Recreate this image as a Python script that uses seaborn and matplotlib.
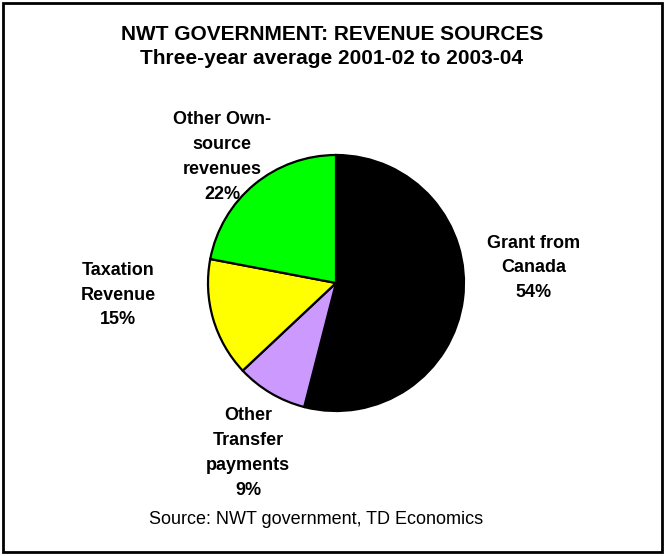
import matplotlib
matplotlib.use("Agg")
import matplotlib.pyplot as plt
import seaborn as sns
from matplotlib.patches import Rectangle

# Revenue shares (percent), in clockwise order starting at 12 o'clock
categories = ["Grant from\nCanada", "Other\nTransfer\npayments", "Taxation\nRevenue", "Other Own-\nsource\nrevenues"]
shares = [54, 9, 15, 22]
colors = ["#000000", "#CC99FF", "#FFFF00", "#00FF00"]

sns.set_theme(style="white")
plt.rcParams["font.family"] = ["Liberation Sans", "DejaVu Sans"]
plt.rcParams["text.color"] = "black"

W, H = 665, 556
fig = plt.figure(figsize=(W / 100, H / 100), dpi=100)

def fx(px):
    return px / W

def fy(py):
    return 1 - py / H

# Pie axes: centre (336, 283) px, radius 128 px
cx, cy, r = 336, 283, 128
ax = fig.add_axes([fx(cx - r), fy(cy + r), 2 * r / W, 2 * r / H])
ax.pie(shares, colors=colors, startangle=90, counterclock=False,
       wedgeprops=dict(edgecolor="black", linewidth=1.6))
ax.set_xlim(-1, 1)
ax.set_ylim(-1, 1)
ax.set_aspect("equal")
ax.axis("off")

# Slice labels with percentages
label_pos = [(534, 268), (248, 453), (118, 295), (222, 157)]
for name, val, (px, py) in zip(categories, shares, label_pos):
    fig.text(fx(px), fy(py), f"{name}\n{val}%", ha="center", va="center",
             fontsize=13, fontweight="bold", linespacing=1.6, color="black")

# Title
fig.text(fx(332), fy(34), "NWT GOVERNMENT: REVENUE SOURCES", ha="center", va="center",
         fontsize=15, fontweight="bold", color="black")
fig.text(fx(332), fy(58), "Three-year average 2001-02 to 2003-04", ha="center", va="center",
         fontsize=15, fontweight="bold", color="black")

# Source note
fig.text(fx(316), fy(520), "Source: NWT government, TD Economics", ha="center", va="center",
         fontsize=13, color="black")

# Outer frame
fig.patches.append(Rectangle((fx(3), fy(552)), fx(659), 549 / H, transform=fig.transFigure,
                             fill=False, edgecolor="black", linewidth=2))

fig.savefig("out.png", dpi=100, facecolor="white")
